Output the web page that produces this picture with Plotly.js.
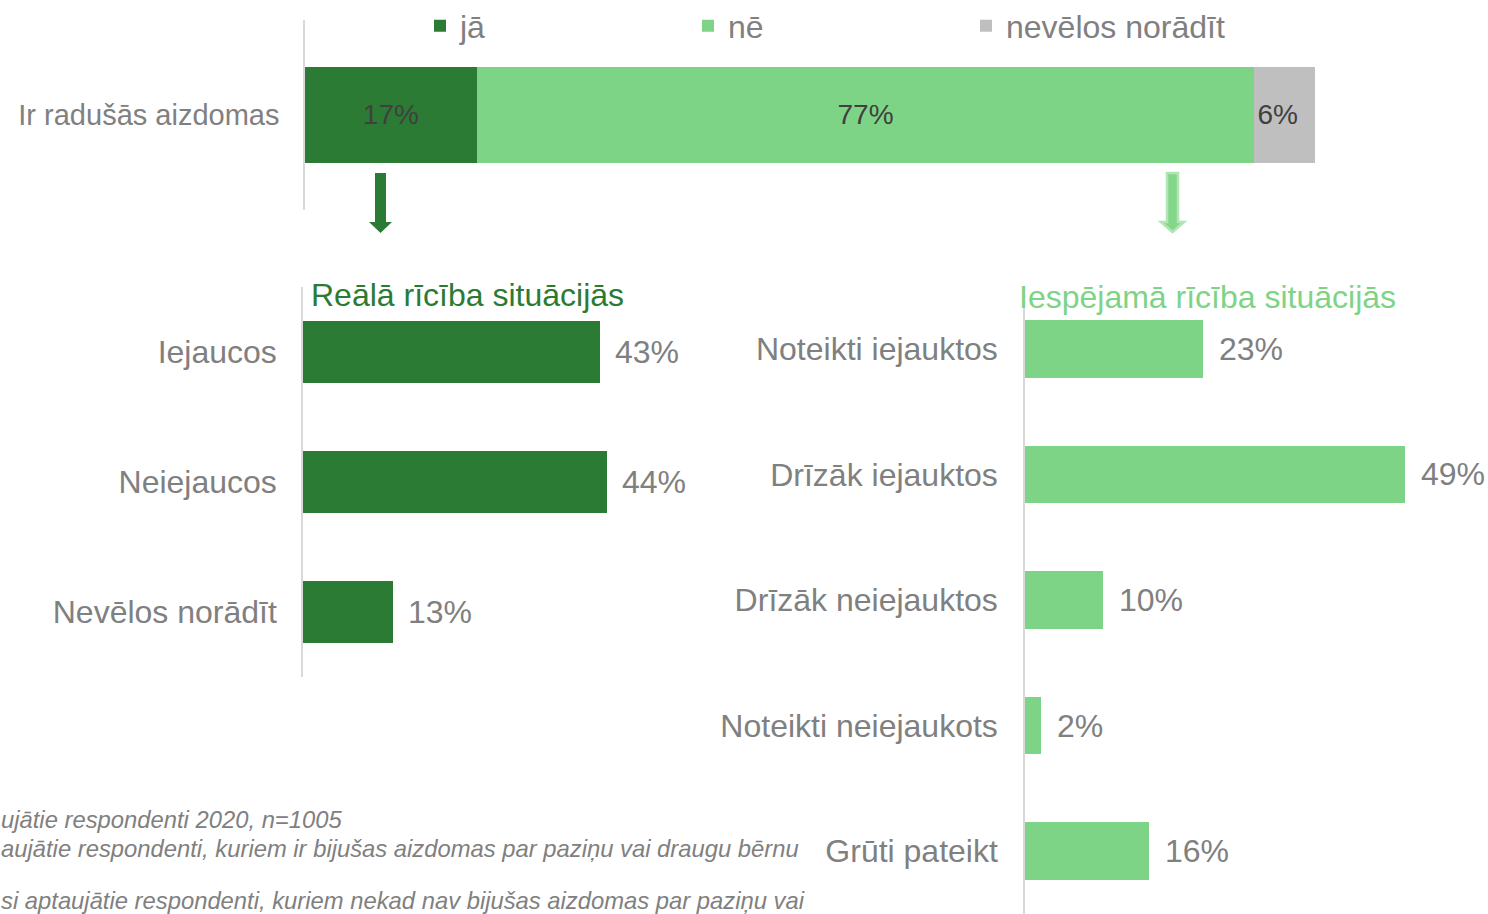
<!DOCTYPE html>
<html>
<head>
<meta charset="utf-8">
<script src="https://cdn.plot.ly/plotly-3.0.1.min.js"></script>
<style>html,body{margin:0;padding:0;background:#fff;}#chart{width:1488px;height:914px;}</style>
</head>
<body>
<div id="chart"></div>
<script>
// ---- data ----
const topCategory = ['Ir radušās aizdomas'];
const topSeriesNames = ['jā', 'nē', 'nevēlos norādīt'];
const topValues = [17, 77, 6];

const realTitle = 'Reālā rīcība situācijās';
const realCategories = ['Iejaucos', 'Neiejaucos', 'Nevēlos norādīt'];
const realValues = [43, 44, 13];

const possTitle = 'Iespējamā rīcība situācijās';
const possCategories = ['Noteikti iejauktos', 'Drīzāk iejauktos', 'Drīzāk neiejauktos', 'Noteikti neiejaukots', 'Grūti pateikt'];
const possValues = [23, 49, 10, 2, 16];

// footnotes as visible in the (cropped) reference
const footnotes = [
  'ujātie respondenti 2020, n=1005',
  'aujātie respondenti, kuriem ir bijušas aizdomas par paziņu vai draugu bērnu',
  'si aptaujātie respondenti, kuriem nekad nav bijušas aizdomas par paziņu vai'
];

// ---- styling ----
const W = 1488, H = 914;
const px = x => x / W;
const py = y => 1 - y / H;
const DARK = '#2b7b34', LIGHT = '#7ed486', GREY = '#bfbfbf';
const TXT = '#808080', FONT = 'Liberation Sans, Arial, sans-serif';
const topColors = [DARK, LIGHT, GREY];
const topAnchors = ['middle', 'middle', 'start'];
const legendIds = ['legend', 'legend2', 'legend3'];
const legendX = [420, 688, 966];

const traces = topSeriesNames.map((name, i) => ({
  type: 'bar', orientation: 'h', name: name,
  x: [topValues[i]], y: topCategory,
  xaxis: 'x', yaxis: 'y',
  marker: {color: topColors[i]},
  width: 0.505,
  text: [topValues[i] + '%'], textposition: 'inside', insidetextanchor: topAnchors[i],
  constraintext: 'none',
  textfont: {family: FONT, size: 28, color: '#404040'},
  legend: legendIds[i], hoverinfo: 'x+name'
}));

traces.push({
  type: 'bar', orientation: 'h', x: realValues, y: realCategories,
  xaxis: 'x2', yaxis: 'y2', marker: {color: DARK}, width: 0.47,
  showlegend: false, hoverinfo: 'x+y'
});
traces.push({
  type: 'bar', orientation: 'h', x: possValues, y: possCategories,
  xaxis: 'x3', yaxis: 'y3', marker: {color: LIGHT}, width: 0.46,
  showlegend: false, hoverinfo: 'x+y'
});

const annotations = [];
realValues.forEach((v, i) => annotations.push({
  xref: 'x2', yref: 'y2', x: v, y: realCategories[i], text: v + '%',
  xanchor: 'left', xshift: 13, showarrow: false,
  font: {family: FONT, size: 32, color: TXT}
}));
possValues.forEach((v, i) => annotations.push({
  xref: 'x3', yref: 'y3', x: v, y: possCategories[i], text: v + '%',
  xanchor: 'left', xshift: 14, showarrow: false,
  font: {family: FONT, size: 32, color: TXT}
}));
annotations.push({
  xref: 'paper', yref: 'paper', x: px(309), y: py(295), text: realTitle,
  xanchor: 'left', yanchor: 'middle', showarrow: false,
  font: {family: FONT, size: 32, color: DARK}
});
annotations.push({
  xref: 'paper', yref: 'paper', x: px(1017), y: py(297), text: possTitle,
  xanchor: 'left', yanchor: 'middle', showarrow: false,
  font: {family: FONT, size: 32, color: LIGHT}
});
const footY = [819, 848, 900];
footnotes.forEach((t, i) => annotations.push({
  xref: 'paper', yref: 'paper', x: 0, y: py(footY[i]), text: '<i>' + t + '</i>',
  xanchor: 'left', yanchor: 'middle', showarrow: false, borderpad: 0,
  font: {family: FONT, size: 23.8, color: TXT}
}));

function arrowPath(x0, x1, hx0, hx1, yTop, yNeck, yTip) {
  const cx = (hx0 + hx1) / 2;
  return 'M' + px(x0) + ',' + py(yTop) + ' L' + px(x1) + ',' + py(yTop) +
    ' L' + px(x1) + ',' + py(yNeck) + ' L' + px(hx1) + ',' + py(yNeck) +
    ' L' + px(cx) + ',' + py(yTip) + ' L' + px(hx0) + ',' + py(yNeck) +
    ' L' + px(x0) + ',' + py(yNeck) + ' Z';
}
const shapes = [
  {type: 'path', xref: 'paper', yref: 'paper', path: arrowPath(375, 386, 369, 392, 173, 222, 233),
   fillcolor: DARK, line: {width: 0}},
  {type: 'path', xref: 'paper', yref: 'paper', path: arrowPath(1167, 1178, 1161, 1184, 173, 222, 232),
   fillcolor: '#84d68b', line: {width: 2.5, color: '#b0e6b4'}}
];

const legendCommon = {orientation: 'h', yanchor: 'middle', xanchor: 'left', bgcolor: 'rgba(0,0,0,0)',
  font: {family: FONT, size: 32, color: TXT}, itemwidth: 30, borderwidth: 0};

const layout = {
  width: W, height: H, margin: {l: 0, r: 0, t: 0, b: 0, autoexpand: false},
  paper_bgcolor: '#fff', plot_bgcolor: 'rgba(0,0,0,0)',
  barmode: 'stack', showlegend: true,
  legend: Object.assign({x: px(legendX[0]), y: py(26)}, legendCommon),
  legend2: Object.assign({x: px(legendX[1]), y: py(26)}, legendCommon),
  legend3: Object.assign({x: px(legendX[2]), y: py(26)}, legendCommon),
  xaxis: {domain: [px(305), px(1315)], range: [0, 100], visible: false, fixedrange: true},
  yaxis: {domain: [py(210), py(20)], anchor: 'x', range: [-0.5, 0.5], showline: true, linecolor: '#d9d9d9', linewidth: 1.5,
    ticks: 'outside', ticklen: 18, tickcolor: 'rgba(0,0,0,0)', showgrid: false, zeroline: false,
    tickfont: {family: FONT, size: 29, color: TXT}},
  xaxis2: {domain: [px(303), px(717)], range: [0, 60], visible: false, anchor: 'y2'},
  yaxis2: {domain: [py(677), py(287)], anchor: 'x2', range: [2.5, -0.5], showline: true, linecolor: '#d9d9d9', linewidth: 1.5,
    ticks: 'outside', ticklen: 18, tickcolor: 'rgba(0,0,0,0)', showgrid: false, zeroline: false,
    tickfont: {family: FONT, size: 32, color: TXT}},
  xaxis3: {domain: [px(1025), 1], range: [0, 463 / 7.75], visible: false, anchor: 'y3'},
  yaxis3: {domain: [0, py(286)], anchor: 'x3', range: [4.5, -0.5], showline: true, linecolor: '#d9d9d9', linewidth: 1.5,
    ticks: 'outside', ticklen: 19, tickcolor: 'rgba(0,0,0,0)', showgrid: false, zeroline: false,
    tickfont: {family: FONT, size: 32, color: TXT}},
  annotations: annotations,
  shapes: shapes
};

Plotly.newPlot('chart', traces, layout, {displayModeBar: false});
</script>
</body>
</html>
